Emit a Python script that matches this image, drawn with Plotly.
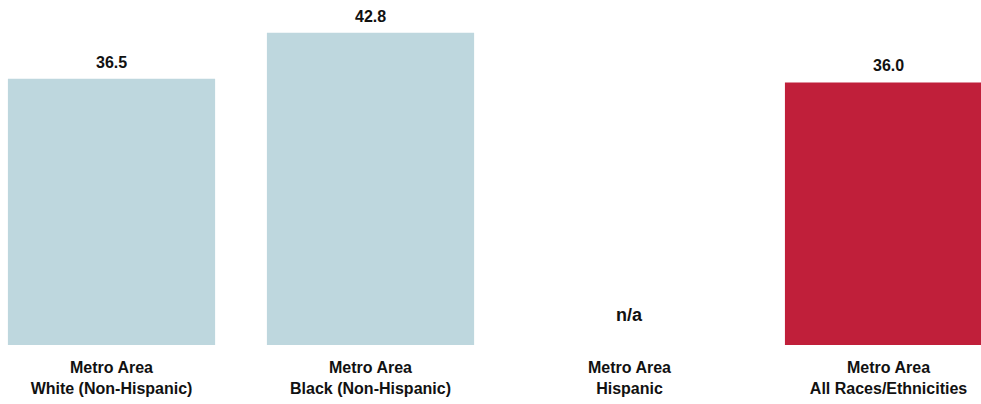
import plotly.graph_objects as go

categories = ["Metro Area<br>White (Non-Hispanic)", "Metro Area<br>Black (Non-Hispanic)",
              "Metro Area<br>Hispanic", "Metro Area<br>All Races/Ethnicities"]
values = [36.5, 42.8, None, 36.0]
colors = ["#BED7DE", "#BED7DE", "#BED7DE", "#C01F3A"]

labels = ["n/a" if v is None else f"{v:.1f}" for v in values]
font = "Liberation Sans, Arial, sans-serif"

fig = go.Figure(go.Bar(
    x=list(range(len(categories))), y=[v if v is not None else 0 for v in values],
    marker_color=colors, marker_line_width=0,
    hoverinfo="skip",
))

# value labels (n/a sits just above the baseline)
for i, (v, l) in enumerate(zip(values, labels)):
    fig.add_annotation(x=i, y=v if v is not None else 0, text=f"<b>{l}</b>",
                       showarrow=False, yanchor="bottom",
                       yshift=6 if v is not None else 18,
                       font=dict(family=font, size=16 if v is not None else 18,
                                 color="#111111"))

fig.update_layout(
    width=981, height=404,
    margin=dict(l=0, r=0, t=0, b=59),
    plot_bgcolor="white", paper_bgcolor="white",
    bargap=0.2, showlegend=False,
    xaxis=dict(range=[-0.4305, 3.357], tickvals=list(range(len(categories))),
               ticktext=[f"<b>{c}</b>" for c in categories],
               showgrid=False, zeroline=False, showline=False,
               ticks="outside", ticklen=8, tickcolor="white",
               tickfont=dict(family=font, size=16, color="#111111")),
    yaxis=dict(range=[0, 47.3], visible=False),
)

fig.write_html("out.html", config={"displayModeBar": False},
               post_script="document.body.style.margin = '0';")
